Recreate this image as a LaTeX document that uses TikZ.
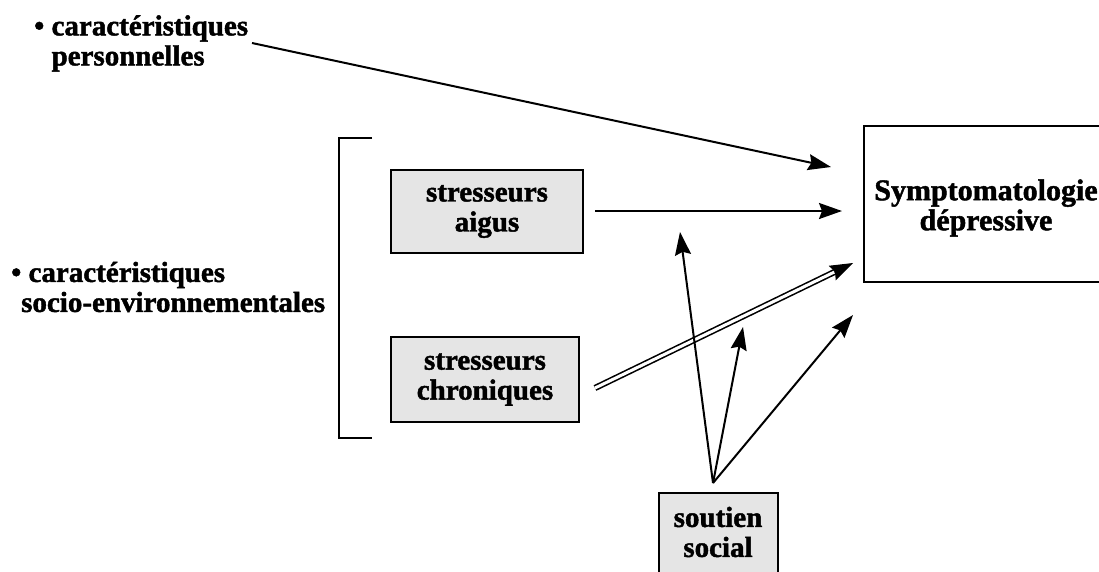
\documentclass[tikz,border=0pt]{standalone}
\usepackage{fontspec}
\setmainfont{Liberation Serif}[BoldFeatures={FakeBold=1.5}]
\usetikzlibrary{arrows.meta,calc}
\begin{document}
\begin{tikzpicture}[x=1pt,y=-1pt,
  txt/.style={font=\bfseries\fontsize{29}{30}\selectfont, inner sep=0pt},
  box/.style={draw, line width=2.2pt, fill=gray!20, inner sep=0pt},
  ln/.style={line width=2pt},
  arr/.style={line width=2pt, -{Stealth[length=23pt,width=16pt,inset=3pt]}},
  tip/.style={line width=1.2pt, -{Stealth[length=23pt,width=16pt,inset=3pt]}},
  dbl/.style={line width=1.6pt, double, double distance=3pt}]
\useasboundingbox (0,0) rectangle (1099,571);
\fill[white] (0,0) rectangle (1099,571);
\clip (0,0) rectangle (1099,571);

% left texts
\node[txt, align=left, anchor=west] (perso) at (34,43.4)
  {\textbullet{} caractéristiques\\\hphantom{\textbullet{} }personnelles};
\node[txt, align=left, anchor=west] (socio) at (11,287)
  {\textbullet{} caractéristiques\\\hspace*{10pt}socio-environnementales};

% bracket
\coordinate (bt) at (372,138);
\coordinate (bb) at (372,438);
\draw[ln] (bt) -- (339,138) -- (339,438) -- (bb);

% stressor boxes
\node[box, minimum width=192pt, minimum height=83pt] (aigusbox) at (487,211.5) {};
\node[txt, align=center] (aigus) at (487,211.5) {stresseurs\\aigus};
\node[box, minimum width=188pt, minimum height=85pt] (chronbox) at (485,379.5) {};
\node[txt, align=center] (chron) at (485,379.5) {stresseurs\\chroniques};

% outcome box (right side runs off the page)
\coordinate (sA) at (1110,126);
\coordinate (sB) at (864,126);
\coordinate (sC) at (864,282);
\coordinate (sD) at (1110,282);
\draw[line width=2.2pt] (sA) -- (sB) -- (sC) -- (sD);
\node[txt, font=\bfseries\fontsize{30}{30}\selectfont, align=center] (symp) at (986,208) {Symptomatologie\\dépressive};

% social support box (bottom runs off the page)
\node[box, minimum width=119pt, minimum height=110pt] (soutienbox) at (718.5,548) {};
\node[txt, align=center] (soutien) at (718,532) {soutien\\social};

% arrows
\coordinate (p0) at (252,43);
\coordinate (p1) at (831,167);
\draw[arr] (p0) -- (p1);

\coordinate (a0) at (595,211);
\coordinate (a1) at (842,211);
\draw[arr] (a0) -- (a1);

\coordinate (c0) at (595,388);
\coordinate (c1) at (853,263);
\draw[dbl] (c0) -- ($(c1)!19pt!(c0)$);
\draw[tip] ($(c1)!21pt!(c0)$) -- (c1);

\coordinate (s0) at (713,483);
\coordinate (s1) at (680,232);
\coordinate (s2) at (743,327);
\coordinate (s3) at (853,315);
\draw[arr] (s0) -- (s1);
\draw[arr] (s0) -- (s2);
\draw[arr] (s0) -- (s3);
\end{tikzpicture}
\end{document}
